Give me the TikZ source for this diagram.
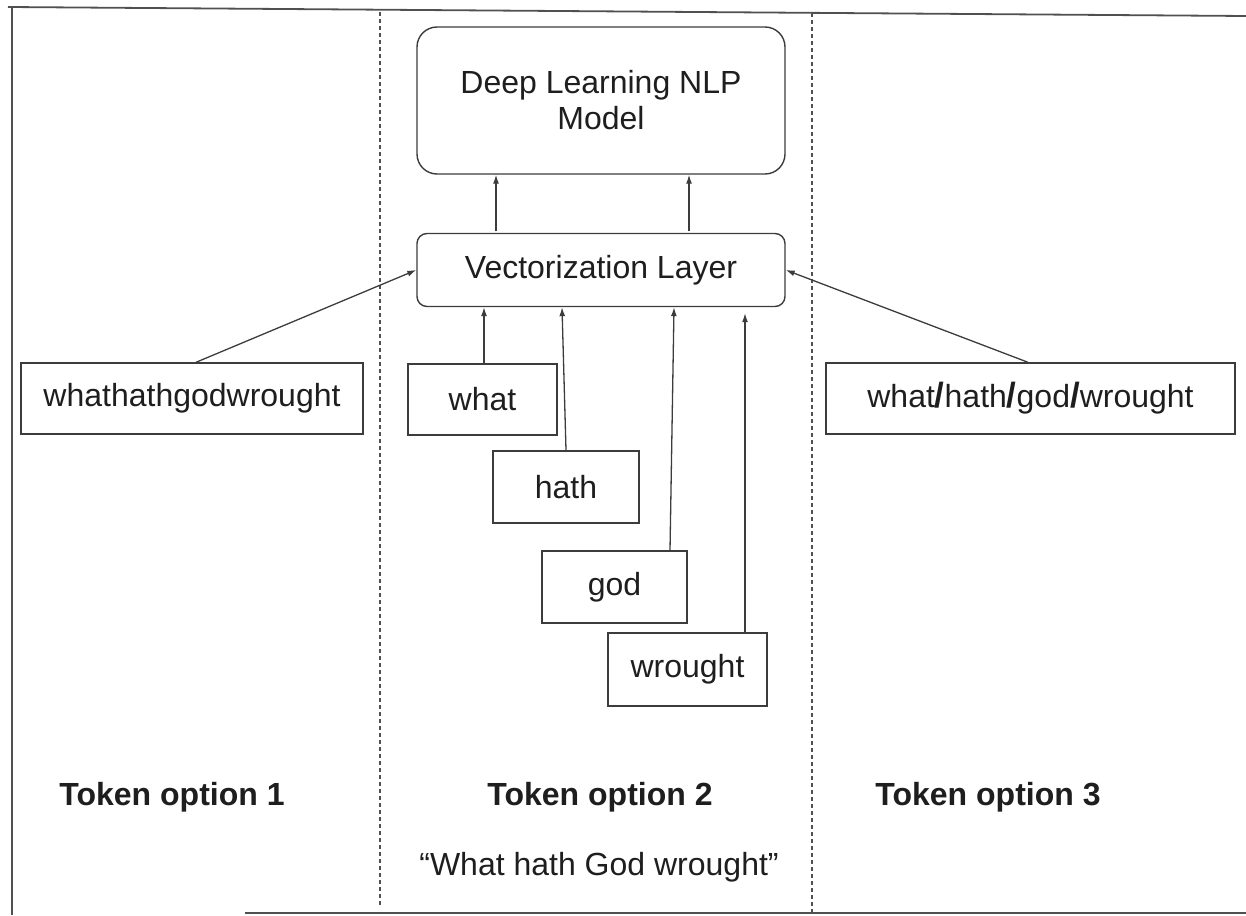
\documentclass[tikz,border=0pt]{standalone}
\usepackage{fontspec}
\setmainfont{Liberation Sans}
\usetikzlibrary{arrows.meta}
\definecolor{ink}{HTML}{1E1E1E}
\definecolor{edge}{HTML}{3C3C3C}
\definecolor{frame}{HTML}{505050}
\begin{document}
\begin{tikzpicture}[x=1pt,y=-1pt,
  txt/.style={text=ink,font=\fontsize{32}{36}\selectfont,align=center},
  tokbox/.style={txt,draw=edge,line width=1.4pt,inner sep=0pt},
  roundbox/.style={tokbox},
  conn/.style={draw=edge,line width=1.3pt,-{Latex[length=9pt,width=6pt]}},
  sep/.style={draw=frame,line width=1.2pt,dash pattern=on 4pt off 3pt},
  border/.style={draw=frame,line width=1.8pt},
  heading/.style={text=ink,font=\fontsize{32}{36}\selectfont\bfseries}]
\useasboundingbox (0,0) rectangle (1246,915);
% frame
\draw[border] (8,7) -- (1246,16);
\draw[border] (12,8) -- (12,915);
\draw[border] (245,913) -- (1246,913);
% separators
\draw[sep] (380,12) -- (380,905);
\draw[sep] (812,13) -- (812,915);
% nodes
\node[roundbox,rounded corners=20pt,minimum width=368pt,minimum height=147pt] (model) at (601,100.5) {Deep Learning NLP\\Model};
\node[roundbox,rounded corners=10pt,minimum width=368pt,minimum height=73pt] (vect) at (601,270) {Vectorization Layer};
\node[tokbox,minimum width=149pt,minimum height=71pt] (what) at (482.5,399.5) {what};
\node[tokbox,minimum width=146pt,minimum height=72pt] (hath) at (566,487) {hath};
\node[tokbox,minimum width=145pt,minimum height=72pt] (god) at (614.5,587) {god};
\node[tokbox,minimum width=159pt,minimum height=73pt] (wrought) at (687.5,669.5) {wrought};
\node[tokbox,minimum width=342pt,minimum height=71pt] (joined) at (192,398.5) {whathathgodwrought};
\newcommand{\slsh}{{\fontsize{35}{36}\selectfont\bfseries /}}
\node[tokbox,minimum width=409pt,minimum height=71pt] (split) at (1030.5,398.5) {what\slsh hath\slsh god\slsh wrought};
% labels
\node[heading] (opt1) at (172,797) {Token option 1};
\node[heading] (opt2) at (600,797) {Token option 2};
\node[heading] (opt3) at (988,797) {Token option 3};
\node[txt] (quote) at (599,867) {“What hath God wrought”};
% connectors
\draw[conn] ([xshift=-105pt,yshift=1.5pt]vect.north) -- ([xshift=-105pt]model.south);
\draw[conn] ([xshift=88pt,yshift=1.5pt]vect.north) -- ([xshift=88pt]model.south);
\draw[conn] ([xshift=1.5pt]what.north) -- ([xshift=-117pt]vect.south);
\draw[conn] (hath.north) -- ([xshift=-39pt]vect.south);
\draw[conn] ([xshift=55.5pt]god.north) -- ([xshift=73pt]vect.south);
\draw[conn,shorten >=6pt] ([xshift=57.5pt]wrought.north) -- ([xshift=144pt]vect.south);
\draw[conn] ([xshift=4pt]joined.north) -- (vect.west);
\draw[conn] ([xshift=-2.5pt]split.north) -- (vect.east);
\end{tikzpicture}
\end{document}
